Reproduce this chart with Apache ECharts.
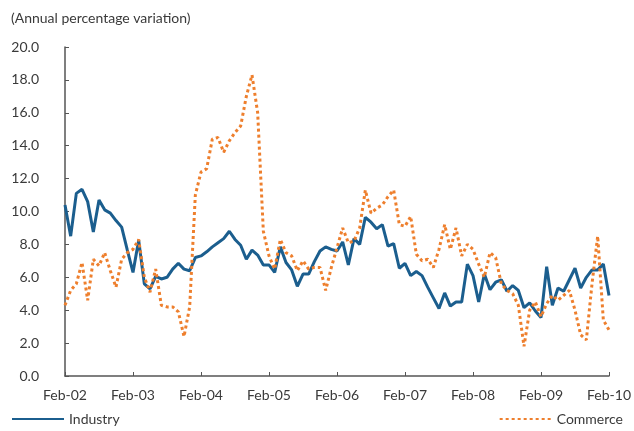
<!DOCTYPE html>
<html>
<head>
<meta charset="utf-8">
<script src="https://cdn.jsdelivr.net/npm/echarts@6/dist/echarts.min.js"></script>
<style>
  html, body { margin: 0; padding: 0; background: #fff; }
  #chart { width: 634px; height: 431px; }
</style>
</head>
<body>
<div id="chart"></div>
<script>
// monthly, Feb-02 .. Feb-10
var months = ['Jan', 'Feb', 'Mar', 'Apr', 'May', 'Jun', 'Jul', 'Aug', 'Sep', 'Oct', 'Nov', 'Dec'];
var years = ['02', '03', '04', '05', '06', '07', '08', '09', '10'];

var industry = [
    10.4, 8.5, 11.1, 11.35, 10.6, 8.75, 10.7, 10.1, 9.9, 9.45, 9.05, 7.65,
    6.3, 8.25, 5.6, 5.3, 6.05, 5.9, 6.0, 6.5, 6.85, 6.5, 6.4, 7.2,
    7.3, 7.55, 7.85, 8.1, 8.35, 8.8, 8.3, 7.95, 7.1, 7.65, 7.35, 6.75,
    6.75, 6.3, 7.85, 6.9, 6.45, 5.45, 6.2, 6.2, 6.95, 7.6, 7.85, 7.7,
    7.6, 8.15, 6.75, 8.35, 8.0, 9.65, 9.35, 8.95, 9.2, 7.9, 8.05, 6.55,
    6.85, 6.1, 6.35, 6.1, 5.4, 4.75, 4.1, 5.05, 4.25, 4.5, 4.5, 6.8,
    6.1, 4.5, 6.2, 5.25, 5.7, 5.85, 5.15, 5.5, 5.2, 4.15, 4.45, 3.95,
    3.55, 6.65, 4.3, 5.35, 5.15, 5.85, 6.55, 5.35, 6.0, 6.45, 6.45, 6.8,
    4.9
];

var commerce = [
    4.3, 5.2, 5.6, 6.9, 4.6, 7.1, 6.7, 7.5, 6.4, 5.4, 7.1, 7.5,
    7.7, 8.3, 6.0, 5.1, 6.5, 4.3, 4.2, 4.2, 3.9, 2.4, 4.2, 11.0,
    12.4, 12.6, 14.4, 14.5, 13.6, 14.3, 14.8, 15.2, 17.0, 18.3, 16.0, 8.8,
    7.3, 6.5, 8.3, 7.5, 7.3, 6.4, 7.0, 6.5, 6.6, 6.6, 5.2, 6.6,
    7.8, 9.0, 8.1, 8.2, 9.0, 11.3, 9.9, 10.2, 10.4, 10.9, 11.3, 9.2,
    9.1, 9.7, 7.4, 7.0, 7.1, 6.6, 7.7, 9.2, 7.7, 9.0, 7.3, 8.0,
    7.7, 6.8, 6.0, 7.5, 7.2, 5.6, 5.2, 5.0, 4.3, 1.8, 4.0, 4.5,
    3.6, 4.4, 4.9, 4.6, 4.9, 5.2, 4.0, 2.5, 2.2, 5.6, 8.5, 3.4,
    2.8
];

var categories = [];
for (var i = 0; i < industry.length; i++) {
    var m = (i + 1) % 12;
    var y = Math.floor((i + 1) / 12);
    categories.push(months[m] + '-' + years[y]);
}

var font = 'Lato, "Open Sans", sans-serif';
var textColor = '#3a3a3a';

var chart = echarts.init(document.getElementById('chart'));

var legendBase = {
    bottom: 0,
    itemWidth: 52,
    itemHeight: 12,
    itemGap: 10,
    itemStyle: { opacity: 0 },
    textStyle: { fontFamily: font, fontSize: 14, color: textColor }
};

var option = {
    animation: false,
    textStyle: { fontFamily: font },
    title: {
        text: '(Annual percentage variation)',
        left: 6,
        top: 6,
        textStyle: {
            fontFamily: font,
            fontSize: 14,
            fontWeight: 'normal',
            color: textColor
        }
    },
    legend: [
        Object.assign({ data: ['Industry'], left: 6 }, legendBase),
        Object.assign({ data: ['Commerce'], right: 6 }, legendBase)
    ],
    grid: {
        left: 65,
        right: 21,
        top: 47,
        bottom: 55,
        containLabel: false
    },
    xAxis: {
        type: 'category',
        data: categories,
        boundaryGap: false,
        axisLine: { lineStyle: { color: '#555', width: 1.5 } },
        axisTick: {
            inside: true,
            length: 4,
            interval: 11,
            lineStyle: { color: '#555' }
        },
        axisLabel: {
            interval: 11,
            margin: 12,
            fontFamily: font,
            fontSize: 14,
            color: textColor
        },
        splitLine: { show: false }
    },
    yAxis: {
        type: 'value',
        min: 0,
        max: 20,
        interval: 2,
        axisLine: { show: true, lineStyle: { color: '#555', width: 1.5 } },
        axisTick: {
            show: true,
            inside: true,
            length: 4,
            lineStyle: { color: '#555' }
        },
        axisLabel: {
            margin: 26,
            fontFamily: font,
            fontSize: 14,
            color: textColor,
            formatter: function (v) { return v.toFixed(1); }
        },
        splitLine: { show: false }
    },
    series: [
        {
            name: 'Industry',
            type: 'line',
            data: industry,
            symbol: 'none',
            color: '#1b5e8e',
            lineStyle: { color: '#1b5e8e', width: 3 }
        },
        {
            name: 'Commerce',
            type: 'line',
            data: commerce,
            symbol: 'none',
            color: '#ee7f2d',
            lineStyle: { color: '#ee7f2d', width: 3, type: [3, 3] }
        }
    ]
};

chart.setOption(option);
</script>
</body>
</html>
